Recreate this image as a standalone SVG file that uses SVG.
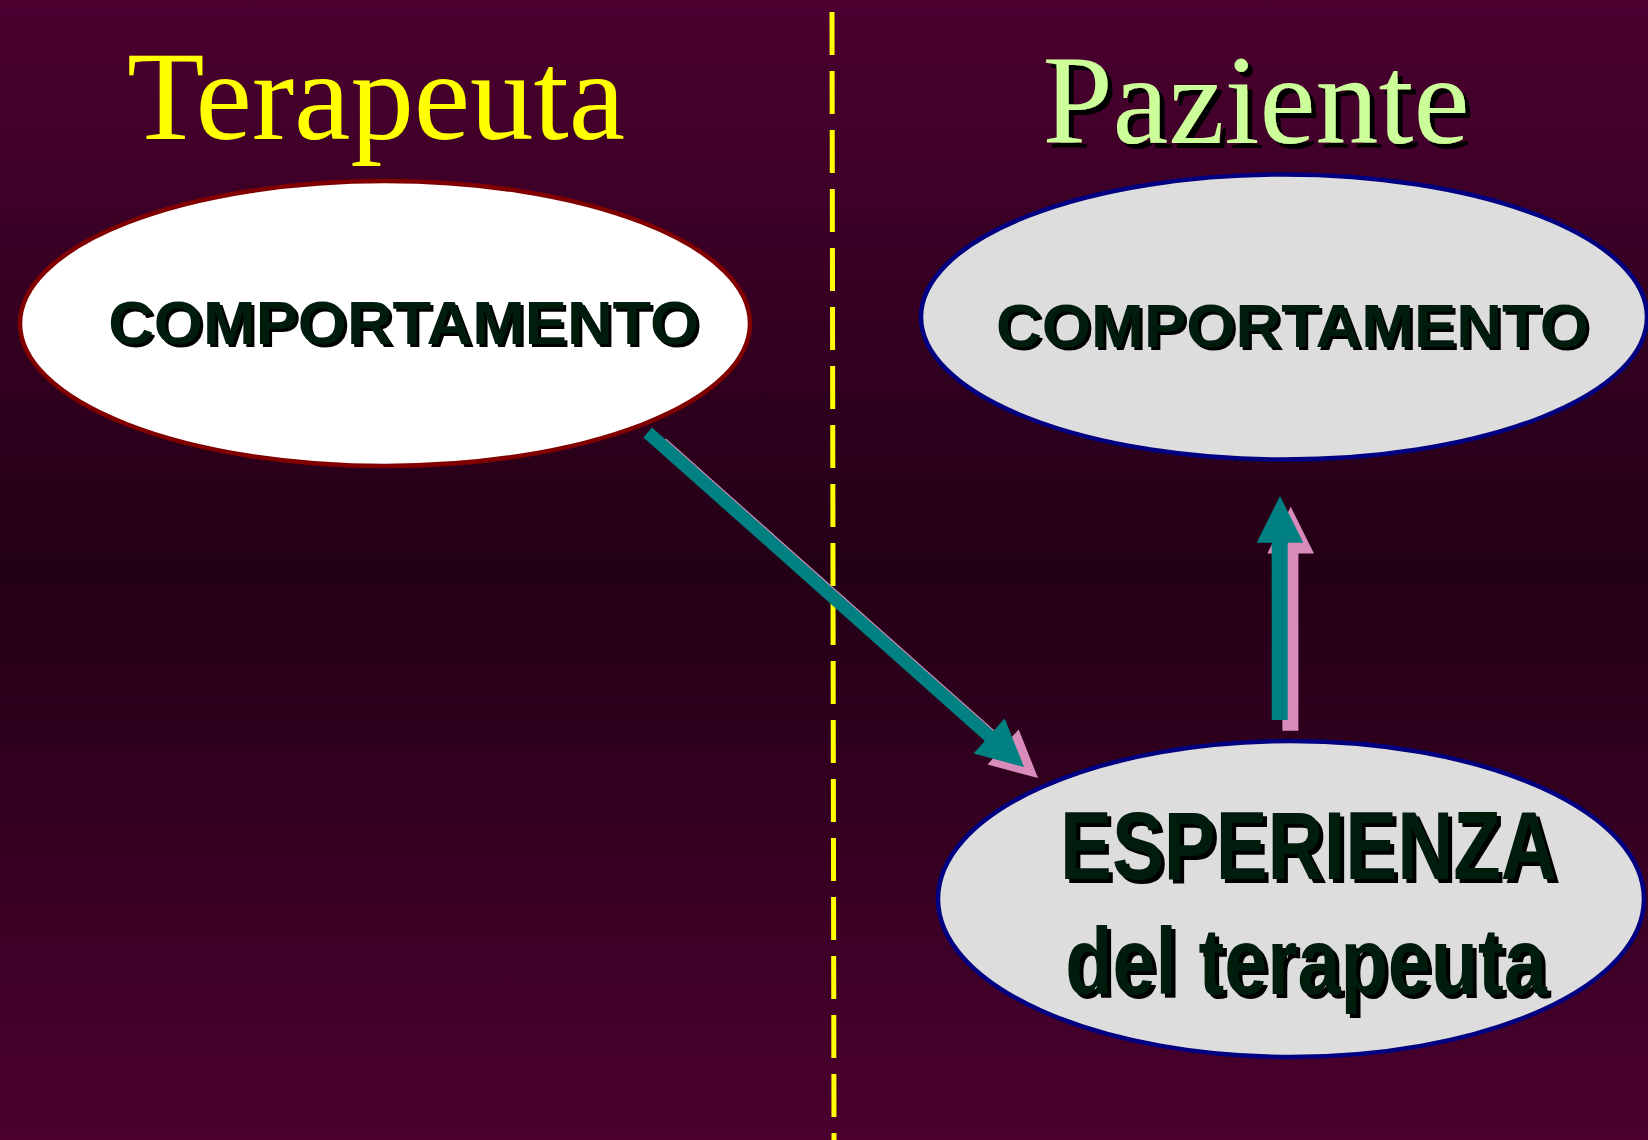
<svg xmlns="http://www.w3.org/2000/svg" width="1648" height="1140" viewBox="0 0 1648 1140">
  <defs>
    <linearGradient id="bg" x1="0" y1="0" x2="0" y2="1">
      <stop offset="0" stop-color="#4b0030"/>
      <stop offset="0.5" stop-color="#230016"/>
      <stop offset="1" stop-color="#4b002e"/>
    </linearGradient>
    <filter id="sh3" x="-5%" y="-20%" width="110%" height="140%">
      <feOffset in="SourceAlpha" dx="3" dy="3" result="o"/>
      <feMerge><feMergeNode in="o"/><feMergeNode in="SourceGraphic"/></feMerge>
    </filter>
    <filter id="sh4" x="-5%" y="-20%" width="110%" height="140%">
      <feOffset in="SourceAlpha" dx="5" dy="4" result="o"/>
      <feMerge><feMergeNode in="o"/><feMergeNode in="SourceGraphic"/></feMerge>
    </filter>
    <filter id="sh5" x="-5%" y="-20%" width="110%" height="140%">
      <feOffset in="SourceAlpha" dx="5" dy="5" result="o"/>
      <feMerge><feMergeNode in="o"/><feMergeNode in="SourceGraphic"/></feMerge>
    </filter>
  </defs>
  <style>
    .title { font-family: "Liberation Serif", "Times New Roman", serif; font-size: 126px; text-anchor: middle; }
    .lbl { font-family: "Liberation Sans", Arial, sans-serif; font-weight: bold; text-anchor: middle; fill: #001c10; }
    .teal { fill: #008080; }
    .pink { fill: #d98cbc; }
  </style>
  <rect x="0" y="0" width="1648" height="1140" fill="url(#bg)"/>

  <g id="divider">
    <line x1="832" y1="12" x2="834" y2="1140" stroke="#ffff00" stroke-width="5" stroke-dasharray="43 16"/>
  </g>

  <g id="title-terapeuta">
    <text class="title" x="376" y="139" fill="#ffff00" textLength="498" lengthAdjust="spacingAndGlyphs">Terapeuta</text>
  </g>
  <g id="title-paziente">
    <text class="title" x="1256" y="143" fill="#ccff99" filter="url(#sh5)" textLength="427" lengthAdjust="spacingAndGlyphs">Paziente</text>
  </g>

  <g id="node-terapeuta-comportamento">
    <ellipse cx="385" cy="323.5" rx="365" ry="142.5" fill="#ffffff" stroke="#800000" stroke-width="4.5"/>
    <text class="lbl" x="403.7" y="344" font-size="62" filter="url(#sh3)" textLength="591" lengthAdjust="spacingAndGlyphs">COMPORTAMENTO</text>
  </g>

  <g id="node-paziente-comportamento">
    <ellipse cx="1284" cy="317" rx="363" ry="142.5" fill="#dddddd" stroke="#000080" stroke-width="4.5"/>
    <text class="lbl" x="1292.5" y="347" font-size="62" filter="url(#sh3)" textLength="593" lengthAdjust="spacingAndGlyphs">COMPORTAMENTO</text>
  </g>

  <g id="node-esperienza">
    <ellipse cx="1291" cy="899" rx="353" ry="158" fill="#dddddd" stroke="#000080" stroke-width="4.5"/>
    <text class="lbl" transform="translate(1308.5,879) scale(0.8,1)" x="0" y="0" font-size="97" filter="url(#sh4)" textLength="621" lengthAdjust="spacingAndGlyphs">ESPERIENZA</text>
    <text class="lbl" transform="translate(1306,994) scale(0.8,1)" x="0" y="0" font-size="95" filter="url(#sh4)" textLength="602" lengthAdjust="spacingAndGlyphs">del terapeuta</text>
  </g>

  <g id="connectors">
    <g id="arrow-comportamento-to-esperienza">
      <polygon class="pink" transform="translate(14,11)" points="652.0,427.6 993.4,731.1 1004.7,718.4 1024,767 973.5,753.6 984.8,740.9 643.4,437.4"/>
      <polygon class="teal" points="652.0,427.6 993.4,731.1 1004.7,718.4 1024,767 973.5,753.6 984.8,740.9 643.4,437.4"/>
    </g>
    <g id="arrow-esperienza-to-comportamento">
      <polygon class="pink" transform="translate(10.7,10.7)" points="1271.7,720 1271.7,542.7 1256.7,542.7 1280,496 1303.3,542.7 1287.7,542.7 1287.7,720"/>
      <polygon class="teal" points="1271.7,720 1271.7,542.7 1256.7,542.7 1280,496 1303.3,542.7 1287.7,542.7 1287.7,720"/>
    </g>
  </g>
</svg>
